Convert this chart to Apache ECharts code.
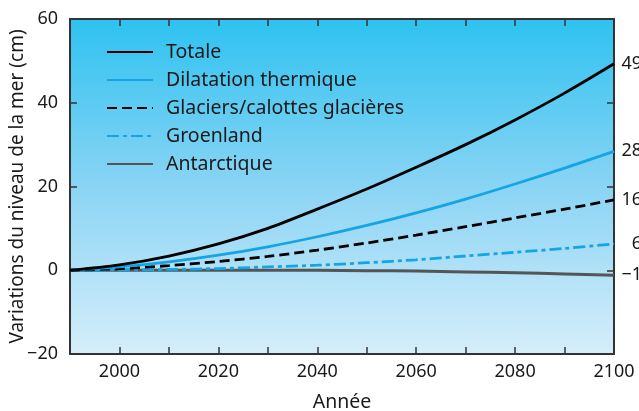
<!DOCTYPE html>
<html>
<head>
<meta charset="utf-8">
<script src="https://cdn.jsdelivr.net/npm/echarts@6/dist/echarts.min.js"></script>
<style>html,body{margin:0;padding:0;background:#fff;}#c{width:639px;height:411px;}</style>
</head>
<body>
<div id="c"></div>
<script>
const years = [1990, 2000, 2010, 2020, 2030, 2040, 2050, 2060, 2070, 2080, 2090, 2100];
const totale = [0, 1.3, 3.4, 6.3, 10.0, 14.6, 19.4, 24.6, 30.0, 35.9, 42.3, 49.3];
const dilatation = [0, 0.8, 2.0, 3.6, 5.6, 8.0, 10.7, 13.7, 17.0, 20.6, 24.4, 28.4];
const glaciers = [0, 0.4, 1.1, 2.1, 3.3, 4.8, 6.5, 8.4, 10.4, 12.5, 14.6, 16.8];
const groenland = [0, 0.1, 0.2, 0.4, 0.8, 1.2, 1.8, 2.5, 3.4, 4.3, 5.2, 6.3];
const antarctique = [0, 0, 0, 0, 0, 0, -0.1, -0.2, -0.4, -0.6, -0.9, -1.2];
const seriesNames = ['Totale', 'Dilatation thermique', 'Glaciers/calottes glacières', 'Groenland', 'Antarctique'];
const endLabels = ['49', '28', '16', '6', '−1'];
const xTickLabels = ['2000', '2020', '2040', '2060', '2080', '2100'];

const FONT = 'Noto Sans';
const BLUE = '#14a5e6';
const TXT = '#1a1a1a';
const pairs = arr => years.map((y, i) => [y, arr[i]]);

const styles = [
  { color: '#000000', width: 2.8, type: 'solid' },
  { color: BLUE, width: 2.8, type: 'solid' },
  { color: '#000000', width: 2.8, type: [10, 5] },
  { color: BLUE, width: 2.8, type: [12, 4, 4, 4] },
  { color: '#555555', width: 3, type: 'solid' }
];
const datasets = [totale, dilatation, glaciers, groenland, antarctique];

const chart = echarts.init(document.getElementById('c'), null, { renderer: 'canvas' });
const tickStyle = { show: true, inside: true, length: 7, lineStyle: { color: '#333', width: 1.5 } };
const axisLineStyle = { show: true, onZero: false, lineStyle: { color: '#333', width: 2 } };

chart.setOption({
  animation: false,
  textStyle: { fontFamily: FONT },
  grid: {
    left: 70, right: 25, top: 19, bottom: 57,
    outerBoundsMode: 'none',
    containLabel: false,
    show: true,
    borderWidth: 0,
    backgroundColor: new echarts.graphic.LinearGradient(0, 0, 0, 1, [
      { offset: 0, color: '#2ec2f0' },
      { offset: 0.5, color: '#8ad4f4' },
      { offset: 1, color: '#d6eefa' }
    ])
  },
  legend: {
    orient: 'vertical',
    left: 106, top: 42, padding: 0,
    itemWidth: 46, itemHeight: 14, itemGap: 8,
    itemStyle: { opacity: 0 },
    textStyle: { fontFamily: FONT, fontSize: 19.5, lineHeight: 20, color: TXT, padding: [0, 0, 0, 8] },
    data: seriesNames
  },
  xAxis: [
    {
      type: 'value', min: 1990, max: 2100, interval: 10, position: 'bottom',
      name: 'Année', nameLocation: 'middle', nameGap: 38, nameMoveOverlap: false,
      nameTextStyle: { fontFamily: FONT, fontSize: 19.5, color: TXT },
      axisLine: axisLineStyle,
      axisTick: tickStyle,
      splitLine: { show: false },
      axisLabel: {
        fontFamily: FONT, fontSize: 18, color: TXT, margin: 9,
        formatter: v => xTickLabels.indexOf(String(v)) >= 0 ? String(v) : ''
      }
    },
    {
      type: 'value', min: 1990, max: 2100, interval: 10, position: 'top',
      axisLine: axisLineStyle,
      axisTick: tickStyle, axisLabel: { show: false }, splitLine: { show: false }
    }
  ],
  yAxis: [
    {
      type: 'value', min: -20, max: 60, interval: 20, position: 'left',
      name: 'Variations du niveau de la mer (cm)', nameLocation: 'middle', nameGap: 43,
      nameMoveOverlap: false,
      nameTextStyle: { fontFamily: FONT, fontSize: 19, color: TXT },
      axisLine: axisLineStyle,
      axisTick: tickStyle,
      splitLine: { show: false },
      axisLabel: {
        fontFamily: FONT, fontSize: 18, color: TXT, margin: 12,
        formatter: v => v < 0 ? '−' + Math.abs(v) : String(v)
      }
    },
    {
      type: 'value', min: -20, max: 60, interval: 20, position: 'right',
      axisLine: axisLineStyle,
      axisTick: tickStyle, axisLabel: { show: false }, splitLine: { show: false }
    }
  ],
  series: datasets.map((d, i) => ({
    name: seriesNames[i],
    type: 'line',
    xAxisIndex: 0, yAxisIndex: 0,
    data: pairs(d),
    smooth: 0.3,
    symbol: 'none',
    z: 10 - i,
    lineStyle: { color: styles[i].color, width: styles[i].width, type: styles[i].type },
    itemStyle: { color: styles[i].color },
    endLabel: {
      show: true,
      formatter: () => endLabels[i],
      fontFamily: FONT, fontSize: 18, color: TXT,
      align: 'right', distance: 28
    }
  }))
});
</script>
</body>
</html>
